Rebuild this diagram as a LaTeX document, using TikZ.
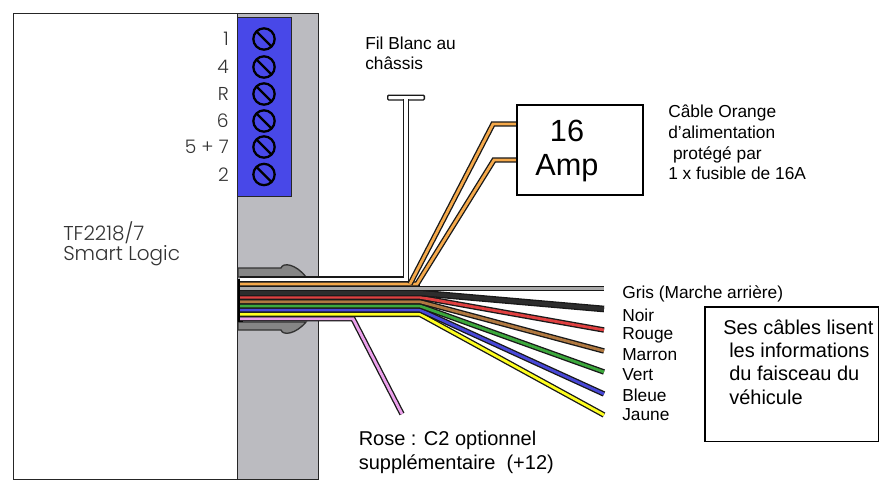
\documentclass[tikz,border=0pt]{standalone}
\usepackage{fontspec}
\setmainfont{Liberation Sans}
\newfontfamily\thinfont[UprightFont=* Light]{Poppins}
\definecolor{panelgray}{RGB}{187,187,192}
\definecolor{blockblue}{RGB}{72,72,232}
\definecolor{wiregray}{RGB}{170,170,170}
\definecolor{wireblack}{RGB}{45,45,45}
\definecolor{wirered}{RGB}{224,64,64}
\definecolor{wirebrown}{RGB}{176,120,64}
\definecolor{wiregreen}{RGB}{60,168,60}
\definecolor{wireblue}{RGB}{72,72,216}
\definecolor{wireyellow}{RGB}{255,255,32}
\definecolor{wireorange}{RGB}{245,169,74}
\definecolor{wirepink}{RGB}{235,160,235}
\begin{document}
\begin{tikzpicture}[x=0.75pt,y=-0.75pt]
    % Definizione stili
    \tikzset{wire/.style={double=#1, double distance=2.1pt, line width=1pt, draw=black!90, line join=miter}}
    \tikzstyle{label}=[font=\fontsize{13pt}{15pt}\selectfont, anchor=west, inner sep=0pt]
    \tikzstyle{notelabel}=[font=\fontsize{15pt}{18pt}\selectfont, anchor=west, inner sep=0pt]
    \tikzstyle{unitlabel}=[font=\fontsize{14pt}{16pt}\thinfont, text=black!80, anchor=east, inner sep=0pt]
    \tikzstyle{screw}=[draw=black, line width=1.7pt, circle, minimum size=16pt, inner sep=0pt, path picture={\draw[line width=1.7pt] (path picture bounding box.north west) -- (path picture bounding box.south east);}]
    \tikzstyle{grommet}=[draw=black!80, fill=black!48, line width=1pt]
    \tikzstyle{frame}=[draw=black!85, line width=1.1pt, anchor=north west, inner sep=0pt]

    \useasboundingbox (0,0) rectangle (879,479);

    % Modulo
    \node[frame, fill=panelgray, minimum width=60.75pt, minimum height=349.5pt] (panel) at (237,12.5) {};
    \node[frame, fill=white, minimum width=168pt, minimum height=349.5pt] (unit) at (13,12.5) {};
    \node[frame, fill=blockblue, minimum width=40.5pt, minimum height=134pt] (block) at (237,17) {};

    % Morsetti
    \foreach \name/\txt/\ypos in {a/1/39, b/4/67, c/R/94, d/6/121, e/5 + 7/147, f/2/174.5} {
        \node[screw] (screw\name) at (264,\ypos) {};
        \node[unitlabel] (term\name) at (229,\ypos) {\txt};
    }
    \node[font=\fontsize{15pt}{15pt}\thinfont, text=black!80, align=left, anchor=north west, inner sep=0pt] (unitname) at (63,221) {TF2218/7\\Smart Logic};

    % Passacavo
    \draw[grommet] (238,268) -- (281,268) .. controls (283,262) and (296,264) .. (306,277) -- (238,277) -- cycle;
    \draw[grommet] (238,330) -- (281,330) .. controls (283,336) and (296,334) .. (306,322) -- (238,322) -- cycle;

    % Punti dei fili
    \coordinate (orangeStart) at (240,284);
    \coordinate (orangeA) at (410,284);
    \coordinate (orangeB) at (417,284);
    \coordinate (orangeC) at (493,124);
    \coordinate (orangeD) at (516,124);
    \coordinate (orangeE) at (494,160);
    \coordinate (orangeF) at (516,160);
    \coordinate (whiteStart) at (240,279.5);
    \coordinate (whiteCorner) at (406,279.5);
    \coordinate (whiteTop) at (406,98.5);
    \coordinate (pinkStart) at (240,318.7);
    \coordinate (pinkA) at (353,318.7);
    \coordinate (pinkB) at (402,414);

    % Fascio
    \fill[black] (238,279) rectangle (243,322);
    \fill[black] (243,282) rectangle (420,316);
    \node[draw=black!90, line width=1pt, fill=white, minimum width=27.5pt, minimum height=3.6pt, inner sep=0pt, rounded corners=0.8pt, anchor=north west] (bar) at (387,94.5) {};
    \draw[wire=white, double distance=2.6pt] (whiteStart) -- (whiteCorner) -- (whiteTop);
    \draw[wire=wirepink] (pinkStart) -- (pinkA) -- (pinkB);
    \foreach \name/\col/\ystart/\yend in {
        yellow/wireyellow/314.3/415,
        blue/wireblue/310/394,
        green/wiregreen/306/372,
        brown/wirebrown/301.7/351,
        red/wirered/297.3/330} {
        \coordinate (\name Start) at (240,\ystart);
        \coordinate (\name Bend) at (420,\ystart);
        \coordinate (\name End) at (604,\yend);
        \draw[wire=\col] (\name Start) -- (\name Bend) -- (\name End);
    }
    \coordinate (blackStart) at (240,293);
    \coordinate (blackBend) at (420,293);
    \coordinate (blackEnd) at (604,309);
    \draw[wire=wireblack, double distance=3pt] (blackStart) -- (blackBend) -- (blackEnd);
    \coordinate (grayStart) at (240,288.5);
    \coordinate (grayEnd) at (604,288.5);
    \draw[wire=wiregray] (grayStart) -- (grayEnd);
    \draw[wire=wireorange] (orangeStart) -- (orangeB) -- (orangeE) -- (orangeF);
    \draw[wire=wireorange] (orangeA) -- (orangeC) -- (orangeD);

    % Fusibile
    \node[draw=black, line width=1.2pt, fill=white, minimum width=94.5pt, minimum height=67.5pt, anchor=north west, inner sep=0pt] (fuse) at (516,104) {};
    \node[align=center, inner sep=0pt, font=\fontsize{23pt}{25.5pt}\selectfont] (fusetext) at (567,151) {16\\Amp};

    % Note
    \node[label, align=left, anchor=north west, font=\fontsize{13pt}{15pt}\selectfont] (whitenote) at (365,37) {Fil Blanc au\\ch\^assis};
    \node[label, align=left, anchor=north west, font=\fontsize{13pt}{15.5pt}\selectfont] (fusenote) at (668,105) {C\^able Orange\\d’alimentation\\ \ protégé par\\1 x fusible de 16A};
    \node[label] (lgris) at (622,294) {Gris (Marche arrière)};
    \node[label] (lnoir) at (622,315) {Noir};
    \node[label] (lrouge) at (622,335) {Rouge};
    \node[label] (lmarron) at (622,355) {Marron};
    \node[label] (lvert) at (622,375) {Vert};
    \node[label] (lbleue) at (622,395) {Bleue};
    \node[label] (ljaune) at (622,415) {Jaune};
    \node[label, align=left, anchor=north west, font=\fontsize{15pt}{18pt}\selectfont] (pinknote) at (358.5,431) {Rose : C2 optionnel\\supplémentaire \ (+12)};

    % Riquadro
    \node[draw=black, line width=1.2pt, minimum width=130.5pt, minimum height=101pt, anchor=north west, inner sep=0pt] (notebox) at (704,306) {};
    \node[notelabel] (notea) at (723,327) {Ses câbles lisent};
    \node[notelabel] (noteb) at (729,350) {les informations};
    \node[notelabel] (notec) at (729,373) {du faisceau du};
    \node[notelabel] (noted) at (729,397) {véhicule};
\end{tikzpicture}
\end{document}
